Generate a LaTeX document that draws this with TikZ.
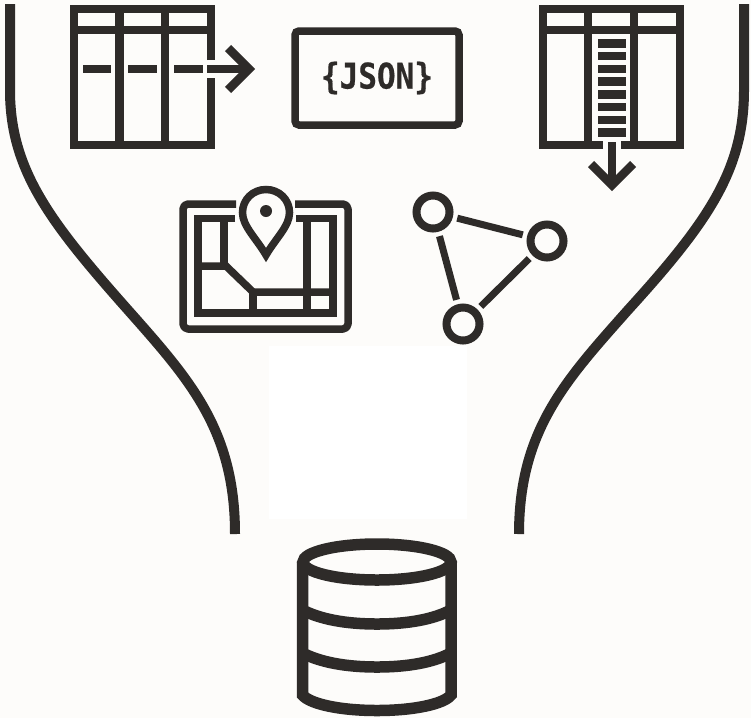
\documentclass[tikz,border=0pt]{standalone}
\usepackage{fontspec}
\newfontfamily\jsonfont[BoldFeatures={FakeBold=0.5}]{DejaVu Sans Mono}
\definecolor{ink}{HTML}{2E2B29}
\definecolor{paper}{HTML}{FDFCFA}
\tikzset{
  wall/.style={draw=ink,line width=8.5pt,line cap=butt,line join=miter},
  soft/.style={draw=ink,line width=7.5pt,line join=round},
  curve/.style={draw=ink,line width=10pt},
  drum/.style={draw=ink,line width=11.5pt},
  vertex/.style={circle,draw=ink,line width=8pt,fill=none,minimum size=33pt,inner sep=0pt},
  link/.style={draw=ink,line width=7pt,shorten >=4.5pt,shorten <=4.5pt}
}
\begin{document}
\begin{tikzpicture}[x=1pt,y=-1pt]
\useasboundingbox (0,0) rectangle (751,718);
\fill[paper] (0,0) rectangle (751,718);
\fill[white] (269,346) rectangle (467,519);
% funnel
\draw[curve] (10,4) -- (10,90) .. controls (10,170) and (50,222) .. (128,310) .. controls (190,380) and (235,430) .. (235,534);
\draw[curve] (744,4) -- (744,90) .. controls (744,170) and (708,222) .. (628,310) .. controls (566,380) and (519,430) .. (519,534);
% left table
\draw[wall] (211,60) -- (211,9) -- (74,9) -- (74,145) -- (211,145) -- (211,78);
\draw[wall] (74,30) -- (211,30);
\draw[wall] (119.5,9) -- (119.5,145);
\draw[wall] (165,9) -- (165,145);
\draw[wall] (83,69) -- (111,69);
\draw[wall] (128,69) -- (157,69);
\draw[wall] (174,69) -- (203,69);
\draw[wall] (207,69) -- (249,69);
\draw[wall] (228,48) -- (249,69) -- (228,90);
% JSON
\node[draw=ink,line width=7.5pt,rounded corners=4pt,minimum width=164pt,minimum height=94pt,inner sep=0pt,text=ink] (json) at (377,78) {\raisebox{-2pt}{\scalebox{1}[1.14]{\jsonfont\bfseries\fontsize{31}{31}\selectfont\{JSON\}}}};
% right table
\draw[wall] (603,145) -- (543,145) -- (543,9) -- (680,9) -- (680,145) -- (621,145);
\draw[wall] (543,30) -- (680,30);
\draw[wall] (588,9) -- (588,145);
\draw[wall] (634,9) -- (634,145);
\foreach \ry in {43.3,56,68.8,81.7,94.3,107,120,132.7}
  \draw[wall] (598,\ry) -- (626,\ry);
\draw[wall] (612,142) -- (612,184);
\draw[wall] (591,164) -- (612,185) -- (633,164);
% map
\draw[soft,rounded corners=5pt] (236,204) -- (183,204) -- (183,329) -- (348,329) -- (348,204) -- (295,204);
\draw[soft,line join=miter] (235,218.5) -- (198,218.5) -- (198,313) -- (333,313) -- (333,218.5) -- (296,218.5);
\draw[soft] (224,219) -- (224,266);
\draw[soft,line join=miter] (198,266) -- (226,266) -- (253,292) -- (333,292);
\draw[soft] (253,292) -- (253,313);
\draw[soft] (307,219) -- (307,313);
\draw[soft,line join=miter] (266,255) .. controls (256,238) and (242.5,226) .. (242.5,212.5) .. controls (242.5,199.5) and (253,189.5) .. (266,189.5) .. controls (279,189.5) and (289.5,199.5) .. (289.5,212.5) .. controls (289.5,226) and (276,238) .. cycle;
\fill[ink] (266,211) circle (6pt);
% graph
\node[vertex] (a) at (433,212) {};
\node[vertex] (b) at (547,241) {};
\node[vertex] (c) at (463,324) {};
\draw[link] (a) -- (b);
\draw[link] (b) -- (c);
\draw[link] (c) -- (a);
% database
\draw[drum] (377,562) ellipse[x radius=74,y radius=18];
\draw[drum] (302.5,562) -- (302.5,695) .. controls (310,704) and (340,710.5) .. (377,710.5) .. controls (414,710.5) and (444,704) .. (451,695) -- (451,562);
\draw[drum] (302.5,610) .. controls (320,619) and (345,624) .. (377,624) .. controls (409,624) and (434,619) .. (451,610);
\draw[drum] (302.5,653) .. controls (320,662) and (345,667) .. (377,667) .. controls (409,667) and (434,662) .. (451,653);
\end{tikzpicture}
\end{document}
